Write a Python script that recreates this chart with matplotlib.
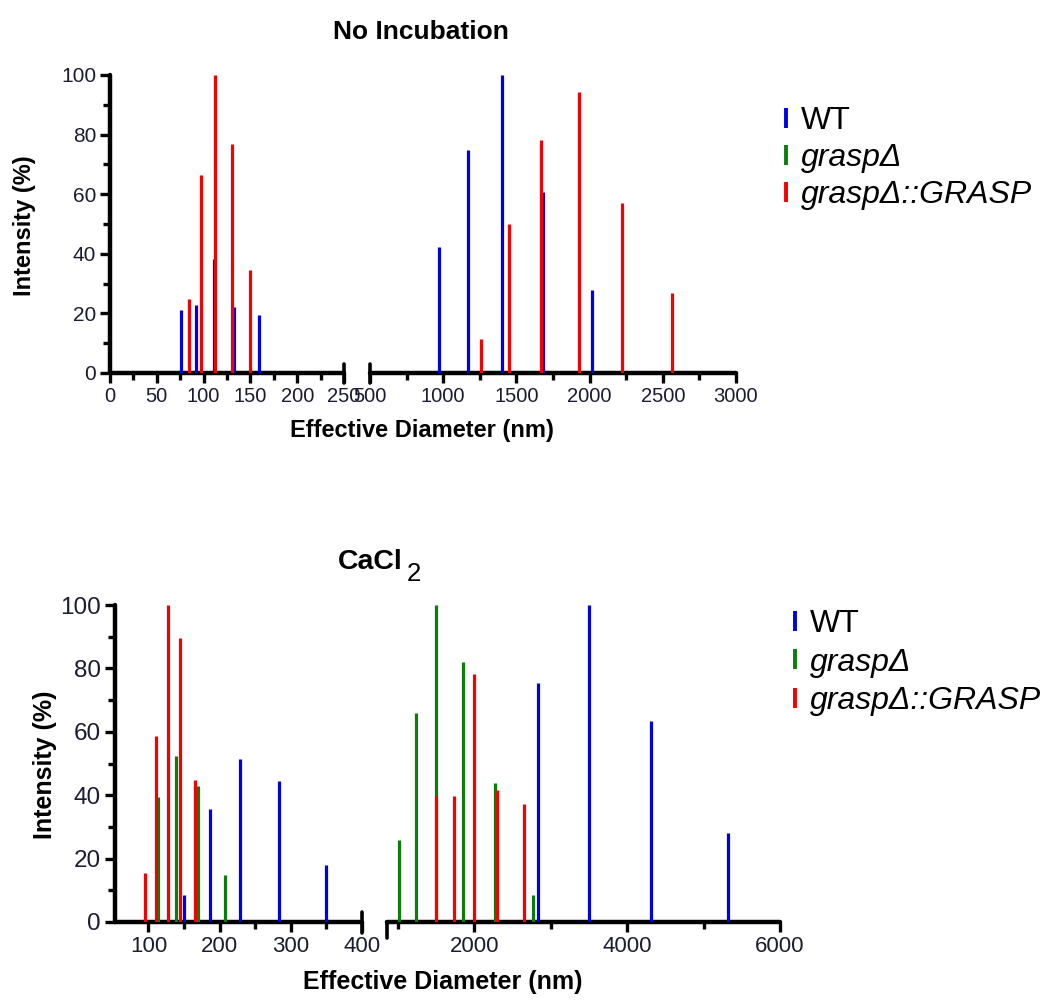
import numpy as np
import matplotlib
matplotlib.use('Agg')
from matplotlib import pyplot as plt
from matplotlib.lines import Line2D
from matplotlib.ticker import MultipleLocator, FixedLocator

plt.rcParams['font.family'] = ['Liberation Sans', 'DejaVu Sans']

# ---- data: effective diameter (nm) and intensity (%) ----
# No incubation
noinc_wt_d = [76, 92, 110.6, 132.7, 159, 973, 1166, 1405, 1684, 2014]
noinc_wt_i = [21.3, 22.8, 38.3, 22.1, 19.5, 42.2, 75, 100, 60.7, 28]
noinc_res_d = [84.5, 97.7, 112.7, 130, 149.8, 1255, 1450, 1668, 1927, 2223, 2561]
noinc_res_i = [25, 66.4, 100, 76.8, 34.7, 11.5, 50.1, 78.3, 94.3, 56.9, 26.8]

# CaCl2
cacl_wt_d = [150.6, 186.3, 229, 284, 349.4, 2834, 3498, 4319, 5314]
cacl_wt_i = [8.4, 35.6, 51.5, 44.6, 18, 75.5, 100, 63.3, 28.1]
cacl_ko_d = [113.6, 138.4, 170.3, 207.4, 1017, 1240, 1507, 1856, 2271, 2764]
cacl_ko_i = [39.3, 52.3, 43, 14.7, 26, 65.8, 100, 82, 43.7, 8.4]
cacl_res_d = [95.8, 110.3, 127.2, 144, 164.7, 1507, 1738, 2000, 2297, 2655]
cacl_res_i = [15.3, 58.6, 100, 89.5, 44.7, 39.8, 39.8, 78.2, 41.5, 37.3]

labels = ['WT', 'grasp\u0394', 'grasp\u0394::GRASP']
colors = ['#0000e6', '#0b7d0b', '#f50000']

W, H = 1050, 1008
fig = plt.figure(figsize=(W / 100, H / 100), dpi=100)


def px_axes(x0, y0, x1, y1):
    # axes from pixel box (left, top, right, bottom)
    return fig.add_axes([x0 / W, 1 - y1 / H, (x1 - x0) / W, (y1 - y0) / H])


def style(ax, xlim, major, minor, ticklabels, fs, yfs=None, left=True):
    ax.set_xlim(*xlim)
    ax.set_ylim(0, 100)
    ax.patch.set_alpha(0)
    for s in ['top', 'right']:
        ax.spines[s].set_visible(False)
    ax.spines['bottom'].set_linewidth(3.2)
    ax.spines['left'].set_linewidth(3.2)
    ax.spines['bottom'].set_capstyle('round')
    ax.spines['left'].set_capstyle('round')
    ax.xaxis.set_major_locator(FixedLocator(major))
    ax.xaxis.set_minor_locator(FixedLocator(minor))
    ax.set_xticklabels(ticklabels)
    if left:
        ax.yaxis.set_major_locator(MultipleLocator(20))
        ax.yaxis.set_minor_locator(MultipleLocator(10))
    else:
        ax.spines['left'].set_visible(False)
        ax.set_yticks([])
    ax.tick_params(which='major', direction='out', length=7, width=2.4,
                   labelsize=fs, pad=3, labelcolor='#1c1c30')
    ax.tick_params(which='minor', direction='out', length=5, width=2.4)
    if yfs:
        ax.tick_params(axis='y', labelsize=yfs)


def cap(ax, xfrac, up=0.03, down=0.035):
    ax.plot([xfrac, xfrac], [-down, up], transform=ax.transAxes, color='black',
            lw=2.6, solid_capstyle='round', clip_on=False)


def draw(ax, series):
    for (d, i), c in series:
        ax.vlines(d, 0, i, colors=c, lw=2.3, zorder=3)


# ---- top: No Incubation ----
ax1 = px_axes(110, 75, 344, 373)
style(ax1, (0, 250), np.arange(0, 251, 50), np.arange(25, 250, 50),
      [str(v) for v in range(0, 251, 50)], 14.5, 15)
draw(ax1, [((noinc_wt_d, noinc_wt_i), colors[0]), ((noinc_res_d, noinc_res_i), colors[2])])
cap(ax1, 1.0)

ax2 = px_axes(370, 75, 736, 373)
style(ax2, (500, 3000), np.arange(500, 3001, 500), np.arange(750, 3000, 500),
      [str(v) for v in range(500, 3001, 500)], 14.5, left=False)
draw(ax2, [((noinc_wt_d, noinc_wt_i), colors[0]), ((noinc_res_d, noinc_res_i), colors[2])])
cap(ax2, 0.0)

fig.text(421 / W, 1 - 32 / H, 'No Incubation', ha='center', va='center',
         fontsize=19, fontweight='bold')
fig.text(422 / W, 1 - 430 / H, 'Effective Diameter (nm)', ha='center', va='center',
         fontsize=17, fontweight='bold')
fig.text(25 / W, 1 - 226 / H, 'Intensity (%)', ha='center', va='center',
         rotation=90, fontsize=17, fontweight='bold')

# ---- bottom: CaCl2 ----
ax3 = px_axes(115, 605, 362, 922)
style(ax3, (53, 400), [100, 200, 300, 400], [150, 250, 350],
      ['100', '200', '300', '400'], 16, 17.5)
draw(ax3, [((cacl_wt_d, cacl_wt_i), colors[0]), ((cacl_ko_d, cacl_ko_i), colors[1]),
           ((cacl_res_d, cacl_res_i), colors[2])])
cap(ax3, 1.0)

ax4 = px_axes(387, 605, 780, 922)
style(ax4, (860, 6000), [2000, 4000, 6000], [1000, 3000, 5000],
      ['2000', '4000', '6000'], 16, left=False)
draw(ax4, [((cacl_wt_d, cacl_wt_i), colors[0]), ((cacl_ko_d, cacl_ko_i), colors[1]),
           ((cacl_res_d, cacl_res_i), colors[2])])
cap(ax4, 0.0, up=0.0, down=0.05)

fig.text(338 / W, 1 - 562 / H, 'CaCl', ha='left', va='center',
         fontsize=20.5, fontweight='bold')
fig.text(407 / W, 1 - 574 / H, '2', ha='left', va='center', fontsize=18.5)
fig.text(443 / W, 1 - 982 / H, 'Effective Diameter (nm)', ha='center', va='center',
         fontsize=18, fontweight='bold')
fig.text(45 / W, 1 - 765 / H, 'Intensity (%)', ha='center', va='center',
         rotation=90, fontsize=18, fontweight='bold')


# ---- legends ----
def legend(x, y, series_idx, spacing):
    handles = [Line2D([], [], color=colors[k], marker='|', linestyle='none',
                      markersize=14, markeredgewidth=2.8) for k in series_idx]
    leg = fig.legend(handles, [labels[k] for k in series_idx], loc='upper left',
                     bbox_to_anchor=(x / W, 1 - y / H), frameon=False,
                     fontsize=23, handlelength=0.35, handletextpad=0.3,
                     labelspacing=spacing, borderaxespad=0, borderpad=0)
    for t in leg.get_texts()[1:]:
        t.set_style('italic')
    return leg


legend(780, 106, [0, 1, 2], 0.22)
legend(789, 609, [0, 1, 2], 0.27)

fig.savefig('out.png', dpi=100)
